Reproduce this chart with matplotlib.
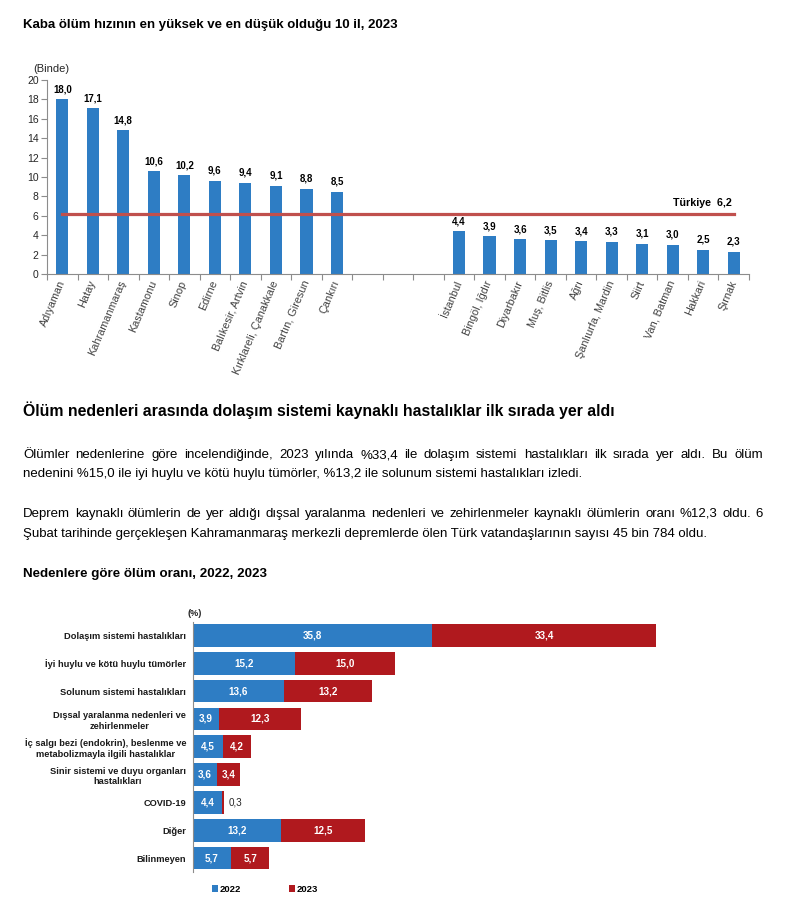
import numpy as np
import matplotlib
matplotlib.use('Agg')
import matplotlib.pyplot as plt

plt.rcParams['font.family'] = ['Liberation Sans', 'DejaVu Sans']

# veriler
il_yuksek = ['Adıyaman', 'Hatay', 'Kahramanmaraş', 'Kastamonu', 'Sinop', 'Edirne',
             'Balıkesir, Artvin', 'Kırklareli, Çanakkale', 'Bartın, Giresun', 'Çankırı']
oran_yuksek = [18.0, 17.1, 14.8, 10.6, 10.2, 9.6, 9.4, 9.1, 8.8, 8.5]
il_dusuk = ['İstanbul', 'Bingöl, Iğdır', 'Diyarbakır', 'Muş, Bitlis', 'Ağrı',
            'Şanlıurfa, Mardin', 'Siirt', 'Van, Batman', 'Hakkari', 'Şırnak']
oran_dusuk = [4.4, 3.9, 3.6, 3.5, 3.4, 3.3, 3.1, 3.0, 2.5, 2.3]
turkiye = 6.2

nedenler = ['Dolaşım sistemi hastalıkları', 'İyi huylu ve kötü huylu tümörler',
            'Solunum sistemi hastalıkları', 'Dışsal yaralanma nedenleri ve\nzehirlenmeler',
            'İç salgı bezi (endokrin), beslenme ve\nmetabolizmayla ilgili hastalıklar',
            'Sinir sistemi ve duyu organları\nhastalıkları', 'COVID-19', 'Diğer', 'Bilinmeyen']
oran_2022 = [35.8, 15.2, 13.6, 3.9, 4.5, 3.6, 4.4, 13.2, 5.7]
oran_2023 = [33.4, 15.0, 13.2, 12.3, 4.2, 3.4, 0.3, 12.5, 5.7]

baslik1 = 'Kaba ölüm hızının en yüksek ve en düşük olduğu 10 il, 2023'
baslik2 = 'Ölüm nedenleri arasında dolaşım sistemi kaynaklı hastalıklar ilk sırada yer aldı'
paragraf = [
    'Ölümler nedenlerine göre incelendiğinde, 2023 yılında %33,4 ile dolaşım sistemi hastalıkları ilk sırada yer aldı. Bu ölüm',
    'nedenini %15,0 ile iyi huylu ve kötü huylu tümörler, %13,2 ile solunum sistemi hastalıkları izledi.',
    'Deprem kaynaklı ölümlerin de yer aldığı dışsal yaralanma nedenleri ve zehirlenmeler kaynaklı ölümlerin oranı %12,3 oldu. 6',
    'Şubat tarihinde gerçekleşen Kahramanmaraş merkezli depremlerde ölen Türk vatandaşlarının sayısı 45 bin 784 oldu.',
]
baslik3 = 'Nedenlere göre ölüm oranı, 2022, 2023'

mavi = '#2E7DC4'
kirmizi = '#B0191E'
gri = '#8C8C8C'

W, H = 798, 907
fig = plt.figure(figsize=(W / 100, H / 100), dpi=100)
renderer = fig.canvas.get_renderer()


def fx(x):
    return x / W


def fy(y):
    return 1 - y / H


def genislik(s, size, weight='normal'):
    t = fig.text(0, 0, s, fontsize=size, fontweight=weight)
    w = t.get_window_extent(renderer).width
    t.remove()
    return w


def sigdir(s, w, weight='normal'):
    return 10 * w / genislik(s, 10, weight)


def yaz(s, x, y, w, weight='normal'):
    size = sigdir(s, w, weight)
    fig.text(fx(x), fy(y), s, fontsize=size, fontweight=weight, va='baseline', color='black')
    return size


def iki_yana(s, x0, x1, y, size):
    # satırı iki yana yasla
    kelimeler = s.split(' ')
    ws = [genislik(k, size) for k in kelimeler]
    bosluk = (x1 - x0 - sum(ws)) / (len(kelimeler) - 1)
    x = x0
    for k, w in zip(kelimeler, ws):
        fig.text(fx(x), fy(y), k, fontsize=size, va='baseline', color='black')
        x += w + bosluk


def fmt(v):
    return f'{v:.1f}'.replace('.', ',')


# metinler
yaz(baslik1, 23, 27.7, 375, 'bold')
yaz(baslik2, 23, 415.7, 595, 'bold')
ps = sigdir(paragraf[1], 560)
iki_yana(paragraf[0], 23, 763, 458.3, ps)
fig.text(fx(23), fy(477.3), paragraf[1], fontsize=ps, va='baseline')
iki_yana(paragraf[2], 23, 763, 516.7, ps)
fig.text(fx(23), fy(537.3), paragraf[3], fontsize=ps, va='baseline')
yaz(baslik3, 23, 576.7, 243, 'bold')

# üst grafik
ax1 = fig.add_axes([fx(47), fy(274), (749 - 47) / W, (274 - 80) / H])
x_yuksek = np.arange(10)
x_dusuk = np.arange(13, 23)
ax1.bar(x_yuksek, oran_yuksek, width=0.4, color=mavi)
ax1.bar(x_dusuk, oran_dusuk, width=0.4, color=mavi)
ax1.plot([x_yuksek[0], x_dusuk[-1]], [turkiye, turkiye], color='#C0504D', lw=2.3)
ax1.annotate(f'Türkiye  {fmt(turkiye)}', (x_dusuk[-1], turkiye), xytext=(-2, 8),
             textcoords='offset pixels', ha='right', va='baseline', fontsize=7.7,
             fontweight='bold', color='black')
for x, v in zip(list(x_yuksek) + list(x_dusuk), oran_yuksek + oran_dusuk):
    ax1.annotate(fmt(v), (x, v), xytext=(0, 7), textcoords='offset pixels',
                 ha='center', va='baseline', fontsize=7, fontweight='bold', color='black')
ax1.set_xlim(-0.5, 22.5)
ax1.set_ylim(0, 20)
ax1.set_yticks(np.arange(0, 21, 2))
ax1.set_xticks(np.arange(-0.5, 23, 1))
ax1.set_xticklabels([])
ax1.set_xticks(list(x_yuksek) + list(x_dusuk), il_yuksek + il_dusuk, minor=True)
ax1.tick_params(axis='x', which='major', length=4, color=gri, direction='out')
ax1.tick_params(axis='x', which='minor', length=0, pad=5, labelsize=7.8,
                labelcolor='#404040')
for lab in ax1.get_xticklabels(minor=True):
    lab.set_rotation(67)
    lab.set_ha('right')
    lab.set_va('center')
    lab.set_rotation_mode('anchor')
ax1.tick_params(axis='y', length=4, color=gri, labelsize=7.5, labelcolor='#262626', pad=2)
for s in ['top', 'right']:
    ax1.spines[s].set_visible(False)
for s in ['left', 'bottom']:
    ax1.spines[s].set_color(gri)
fig.text(fx(33), fy(71.5), '(Binde)', fontsize=8, va='baseline', color='#262626')

# alt grafik
ax2 = fig.add_axes([fx(193), fy(872), 535 / W, (872 - 621.5) / H])
y = np.arange(len(nedenler))
b1 = ax2.barh(y, oran_2022, height=0.81, color=mavi, label='2022')
b2 = ax2.barh(y, oran_2023, left=oran_2022, height=0.81, color=kirmizi, label='2023')
for yi, a, b in zip(y, oran_2022, oran_2023):
    ax2.text(a / 2, yi, fmt(a), ha='center', va='center', color='white',
             fontsize=7.1, fontweight='bold')
    if b >= 1:
        ax2.text(a + b / 2, yi, fmt(b), ha='center', va='center', color='white',
                 fontsize=7.1, fontweight='bold')
    else:
        ax2.annotate(fmt(b), (a + b, yi), xytext=(4, 0), textcoords='offset pixels',
                     ha='left', va='center', fontsize=7.1, color='#262626')
ax2.set_xlim(0, 80)
ax2.set_ylim(len(nedenler) - 0.5, -0.5)
ax2.set_yticks(y, nedenler)
ax2.set_xticks([])
ax2.tick_params(axis='y', length=0, pad=5, labelsize=6.7, labelcolor='#1a1a1a')
for lab in ax2.get_yticklabels():
    lab.set_fontweight('bold')
    lab.set_multialignment('center')
    lab.set_linespacing(1.25)
for s in ['top', 'right', 'bottom']:
    ax2.spines[s].set_visible(False)
ax2.spines['left'].set_color(gri)
fig.text(fx(195), fy(613), '(%)', fontsize=6.5, fontweight='bold', ha='center',
         va='center', color='#262626')
fig.legend(handles=[b1, b2], loc='center left', bbox_to_anchor=(fx(203), fy(889)),
           ncol=2, frameon=False, handlelength=0.7, handleheight=0.7,
           handletextpad=0.2, columnspacing=5.0,
           prop={'size': 6.8, 'weight': 'bold'})

fig.savefig('out.png', dpi=100, facecolor='white')
